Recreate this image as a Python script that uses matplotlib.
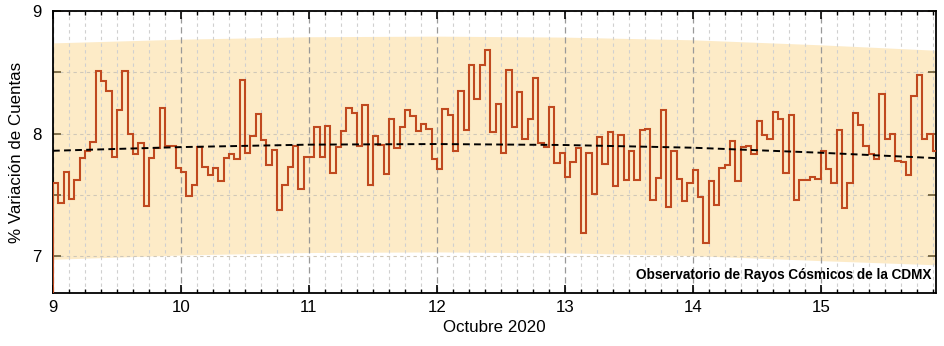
import numpy as np
import matplotlib
matplotlib.use("Agg")
import matplotlib.pyplot as plt

plt.rcParams["font.family"] = ["Liberation Sans", "DejaVu Sans"]

# hourly counts variation (%), one list per day of October 2020
day_09 = [7.60, 7.43, 7.69, 7.47, 7.62, 7.80, 7.86, 7.93, 8.51, 8.43, 8.35, 7.81,
          8.19, 8.51, 8.00, 7.83, 7.92, 7.41, 7.80, 7.88, 8.21, 7.90, 7.90, 7.72]
day_10 = [7.69, 7.49, 7.58, 7.89, 7.73, 7.66, 7.72, 7.61, 7.80, 7.83, 7.79, 8.44,
          7.84, 7.98, 8.16, 7.95, 7.74, 7.87, 7.38, 7.58, 7.73, 7.90, 7.55, 7.81]
day_11 = [7.81, 8.05, 7.81, 8.06, 7.68, 7.89, 8.02, 8.21, 8.17, 7.90, 8.23, 7.58,
          7.98, 7.91, 7.67, 8.12, 7.88, 8.05, 8.19, 8.14, 8.02, 8.08, 8.04, 7.79]
day_12 = [7.71, 8.20, 8.15, 7.86, 8.35, 8.03, 8.56, 8.28, 8.56, 8.68, 8.01, 8.24,
          7.84, 8.52, 8.05, 8.34, 7.96, 8.12, 8.45, 7.92, 7.89, 8.22, 7.76, 7.84]
day_13 = [7.65, 7.77, 7.88, 7.19, 7.84, 7.51, 7.97, 7.75, 8.01, 7.57, 7.99, 7.62,
          7.86, 7.62, 8.03, 8.04, 7.46, 7.64, 8.19, 7.40, 7.86, 7.63, 7.45, 7.60]
day_14 = [7.70, 7.48, 7.11, 7.61, 7.42, 7.72, 7.74, 7.94, 7.61, 7.89, 7.90, 7.83,
          8.10, 7.99, 7.96, 8.18, 8.12, 7.68, 8.15, 7.46, 7.62, 7.62, 7.65, 7.63]
day_15 = [7.86, 7.71, 7.60, 8.03, 7.39, 7.60, 8.17, 8.07, 7.90, 7.83, 7.79, 8.32,
          7.96, 8.00, 7.78, 7.77, 7.66, 8.31, 8.48, 7.96, 8.00, 7.86]

# trend and band read at day marks
trend_days = [9, 10, 11, 12, 13, 14, 15, 15.9]
trend_vals = [7.86, 7.89, 7.91, 7.915, 7.907, 7.885, 7.844, 7.80]
band_upper = [8.74, 8.77, 8.79, 8.795, 8.787, 8.765, 8.724, 8.68]
band_lower = [6.975, 7.01, 7.03, 7.035, 7.027, 7.005, 6.964, 6.93]

values = np.array(day_09 + day_10 + day_11 + day_12 + day_13 + day_14 + day_15)
edges = 9 + np.arange(len(values) + 1) / 24

fig = plt.figure(figsize=(9.44, 3.46), dpi=100)
ax = fig.add_axes([0.0561, 0.1532, 0.9354, 0.815])

ax.fill_between(trend_days, band_lower, band_upper, color="#fdebc7", lw=0, zorder=0.1)

ax.grid(True, which="major", axis="x", color="#999999", ls=(0, (5, 3)), lw=0.9)
ax.grid(True, which="minor", axis="x", color="#d0d0d0", ls=(0, (3, 3)), lw=0.8)
ax.grid(True, which="both", axis="y", color="#d0c8b8", ls=(0, (3, 3)), lw=0.8)

ax.stairs(values, edges, color="#c0491f", lw=1.5, zorder=3)
ax.plot(trend_days, trend_vals, color="black", lw=1.4, ls=(0, (3.5, 2.2)), zorder=4)

ax.set_xlim(9, 15.9)
ax.set_ylim(6.7, 9)
ax.set_xticks(range(9, 16))
ax.set_xticks(9 + np.arange(0, 56) / 8, minor=True)
ax.set_yticks([7, 8, 9])
ax.set_yticks([7.5, 8.5], minor=True)

ax.tick_params(axis="x", which="major", direction="in", length=6, width=1.2,
               top=True, labelsize=12.2, pad=5)
ax.tick_params(axis="x", which="minor", direction="in", length=3, width=1.0, top=True)
ax.tick_params(axis="y", which="both", direction="in", length=6, width=1.2,
               right=True, color="#6b5b35", labelsize=12.2, pad=8)

for sp in ax.spines.values():
    sp.set_linewidth(1.3)

ax.set_xlabel("Octubre 2020", fontsize=12.2, labelpad=4)
ax.set_ylabel("% Variación de Cuentas", fontsize=12.2, labelpad=6)

ax.text(0.995, 0.065, "Observatorio de Rayos Cósmicos de la CDMX", transform=ax.transAxes,
        ha="right", va="center", fontsize=9.85, fontweight="bold", zorder=5)

fig.savefig("out.png", dpi=100)
